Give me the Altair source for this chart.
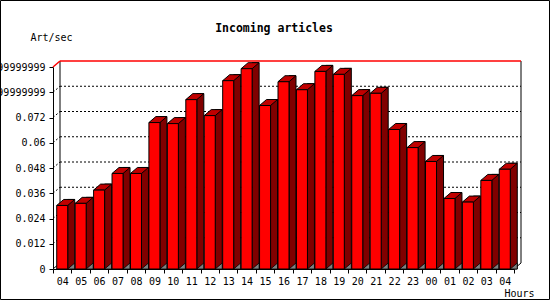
import json
import altair as alt
import pandas as pd

# ---- data ----
hours = ["04", "05", "06", "07", "08", "09", "10", "11", "12", "13", "14", "15", "16",
         "17", "18", "19", "20", "21", "22", "23", "00", "01", "02", "03", "04"]
rates = [0.0302, 0.0312, 0.0375, 0.0454, 0.0454, 0.0696, 0.0691, 0.0805, 0.0729,
         0.0895, 0.0952, 0.0777, 0.0890, 0.0852, 0.0939, 0.0925, 0.0824, 0.0835,
         0.0663, 0.0577, 0.0511, 0.0335, 0.0318, 0.0421, 0.0474]
y_ticks = [0, 0.012, 0.024, 0.036, 0.048, 0.06, 0.072, 0.084, 0.096]
y_tick_labels = ["0", "0.012", "0.024", "0.036", "0.048", "0.06", "0.072",
                 "0.08399999999999999", "0.09599999999999999"]
grid_values = y_ticks[1:-1]
title_text = "Incoming articles"
y_title = "Art/sec"
x_title = "Hours"

# ---- layout / style ----
W, H = 461, 202
PAD = {"left": 53, "top": 67, "right": 36, "bottom": 31}
DX, DY = 7, 6
FRONT_W = 11
FONT = "DejaVu Sans Mono"
RED, DARK, TOPC, SHADOW = "#ff0000", "#800000", "#c00000", "#808080"

bars = pd.DataFrame({"i": list(range(len(hours))), "rate": rates})
grid = pd.DataFrame({"v": grid_values})
one = pd.DataFrame({"k": [0]})

x_scale = alt.Scale(paddingInner=0, paddingOuter=0)
y_scale = alt.Scale(domain=[0, y_ticks[-1]], nice=False, zero=True)

x_axis = alt.Axis(
    labelExpr=json.dumps(hours) + "[datum.value]", labelAngle=0, tickBand="extent",
    title=x_title, titleX=481, titleY=27, titleAlign="right", titleBaseline="alphabetic",
    titleFont=FONT, titleFontSize=10, titleFontWeight="normal", titleColor="black",
    tickSize=4, labelPadding=3, labelFont=FONT, labelFontSize=10, labelColor="black",
    domainColor="black", tickColor="black", grid=False)
y_axis = alt.Axis(
    values=y_ticks, labelExpr=json.dumps(y_tick_labels) + "[round(datum.value/0.012)]",
    title=y_title, titleAngle=0, titleX=-23, titleY=-27, titleAlign="left",
    titleBaseline="alphabetic", titleFont=FONT, titleFontSize=10,
    titleFontWeight="normal", titleColor="black", tickSize=4, labelPadding=4,
    labelFont=FONT, labelFontSize=10, labelColor="black", labelOverlap=False,
    domainColor="black", tickColor="black", grid=False)

X = alt.X("i:O", scale=x_scale, axis=x_axis)
Y = alt.Y("rate:Q", scale=y_scale, axis=y_axis)


def seg(x1, y1, x2, y2, color="black", width=1, dash=None):
    kw = dict(color=color, strokeWidth=width)
    if dash:
        kw["strokeDash"] = dash
    return alt.Chart(one).mark_rule(**kw).encode(
        x=alt.value(x1), x2=alt.value(x2), y=alt.value(y1), y2=alt.value(y2))


border = alt.Chart(one).mark_rect(filled=False, color="black", strokeWidth=1).encode(
    x=alt.value(-PAD["left"] + 0.5), x2=alt.value(W + PAD["right"] - 0.5),
    y=alt.value(-PAD["top"] + 0.5), y2=alt.value(H + PAD["bottom"] - 0.5))

wall = alt.Chart(one).mark_rect(color="white").encode(
    x=alt.value(DX), x2=alt.value(W + DX), y=alt.value(-DY), y2=alt.value(H - DY))

grid_rules = alt.Chart(grid).mark_rule(color="black", strokeDash=[2, 2], yOffset=-DY).encode(
    y=alt.Y("v:Q", scale=y_scale, axis=y_axis), x=alt.value(DX), x2=alt.value(W + DX))

tick_diag = alt.Chart(grid).mark_rule(color="black", strokeDash=[2, 2], y2Offset=-DY).encode(
    y=alt.Y("v:Q", scale=y_scale, axis=y_axis), y2=alt.Y2("v"),
    x=alt.value(0), x2=alt.value(DX))

edges = [
    seg(DX, -DY, DX, H - DY),
    seg(W + DX, -DY, W + DX, H - DY),
    seg(0, H, DX, H - DY),
    seg(W, H, W + DX, H - DY),
    seg(DX, -DY, W + DX, -DY, color=RED, width=1.5),
    seg(0, 0, DX, -DY, color=RED, width=1.5),
]

side = alt.Chart(bars).mark_bar(
    width=DX, xOffset=FRONT_W / 2 + DX / 2, yOffset=-DY, color=DARK,
    stroke="black", strokeWidth=1).encode(x=X, y=Y, y2=alt.Y2Datum(0))

tri_path = "M -1 0.857 L 1 0.857 L 1 -0.857 Z"
shadow = alt.Chart(bars).mark_point(
    shape=tri_path, size=DX * DX, filled=True, color=SHADOW, opacity=1,
    stroke="black", strokeWidth=0.8, xOffset=FRONT_W / 2 + DX / 2, yOffset=-DY / 2
).encode(x=X, y=alt.Y("z:Q", scale=y_scale, axis=y_axis)).transform_calculate(z="0")

top_w = FRONT_W + DX
u = 2.0 / top_w
top_path = "M {a} {b} L {c} {b} L 1 {d} L {e} {d} Z".format(
    a=-1, b=round(DY / 2 * u, 4), c=round(-1 + FRONT_W * u, 4), d=round(-DY / 2 * u, 4),
    e=round(-1 + DX * u, 4))
top = alt.Chart(bars).mark_point(
    shape=top_path, size=top_w * top_w, filled=True, color=TOPC, opacity=1,
    stroke="black", strokeWidth=1, xOffset=DX / 2, yOffset=-DY / 2).encode(x=X, y=Y)

front = alt.Chart(bars).mark_bar(
    width=FRONT_W, color=RED, stroke="black", strokeWidth=1).encode(
    x=X, y=Y, y2=alt.Y2Datum(0))

title = alt.Chart(one).mark_text(
    text=title_text, font=FONT, fontSize=11.5, fontWeight="bold", color="black",
    align="center", baseline="alphabetic").encode(x=alt.value(221), y=alt.value(-35.5))

chart = alt.layer(
    border, wall, grid_rules, tick_diag, *edges, side, shadow, top, front, title
).properties(
    width=W, height=H, padding=PAD, autosize=alt.AutoSizeParams(type="none"),
    background="white"
).configure_view(stroke=None)

chart.save("out.html", embed_options={"renderer": "svg", "actions": False})
